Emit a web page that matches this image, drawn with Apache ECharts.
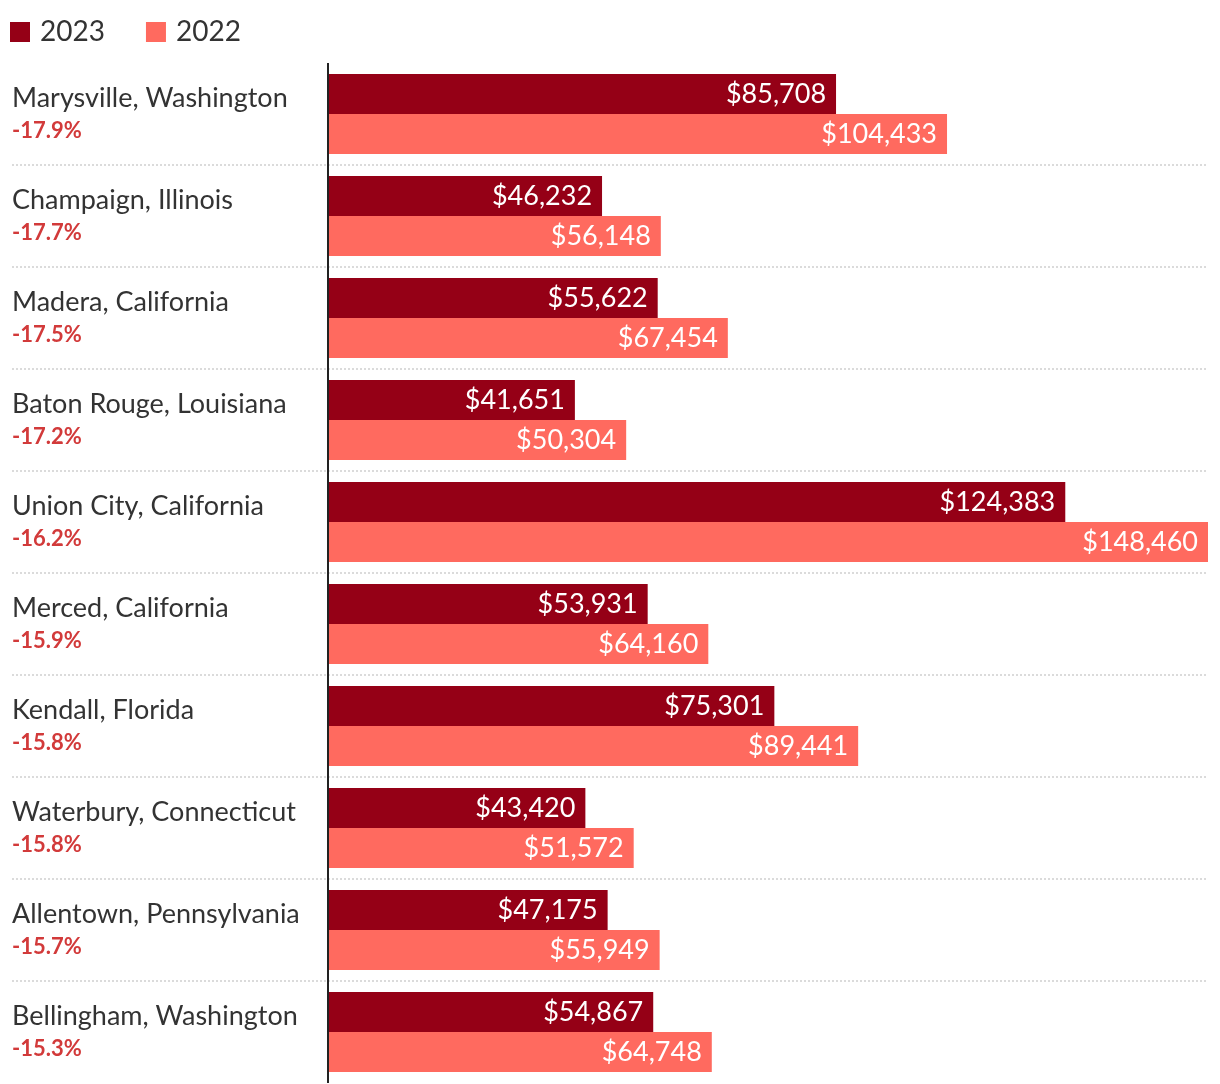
<!DOCTYPE html>
<html>
<head>
<meta charset="utf-8">
<script src="https://cdn.jsdelivr.net/npm/echarts@6/dist/echarts.min.js"></script>
<style>
html,body{margin:0;padding:0;background:#fff;}
#chart{width:1220px;height:1084px;}
</style>
</head>
<body>
<div id="chart"></div>
<script>
const cities = ["Marysville, Washington","Champaign, Illinois","Madera, California","Baton Rouge, Louisiana","Union City, California","Merced, California","Kendall, Florida","Waterbury, Connecticut","Allentown, Pennsylvania","Bellingham, Washington"];
const changes = ["-17.9%","-17.7%","-17.5%","-17.2%","-16.2%","-15.9%","-15.8%","-15.8%","-15.7%","-15.3%"];
const values2023 = [85708,46232,55622,41651,124383,53931,75301,43420,47175,54867];
const values2022 = [104433,56148,67454,50304,148460,64160,89441,51572,55949,64748];
const seriesNames = ["2023","2022"];

const FONT = 'Lato';
const maxVal = Math.max(...values2022, ...values2023);
// left label area: 316px before the zero line, 880px for the bar area
const minVal = -maxVal * 316 / 880;

const fmt = v => '$' + v.toLocaleString('en-US');
const labels = cities.map((c,i)=> c + '||' + changes[i]);

const chart = echarts.init(document.getElementById('chart'));
chart.setOption({
  animation:false,
  textStyle:{fontFamily:FONT},
  legend:{
    left:5, top:13, itemWidth:20, itemHeight:20, itemGap:41, icon:'rect',
    textStyle:{fontFamily:FONT, fontSize:28, color:'#333', padding:[0,0,0,5]},
    data:seriesNames
  },
  grid:{left:12, right:12, top:63, bottom:1, containLabel:false},
  xAxis:{
    type:'value', min:minVal, max:maxVal,
    axisLine:{show:false}, axisTick:{show:false}, axisLabel:{show:false}, splitLine:{show:false}
  },
  yAxis:{
    type:'category', inverse:true, data:labels,
    axisLine:{show:false}, axisTick:{show:false},
    splitLine:{show:true, showMinLine:false, showMaxLine:false, lineStyle:{color:'#cfcfcf', type:[2,2], width:1.5}},
    axisLabel:{
      inside:true, margin:0, align:'left',
      formatter: v => { const p = v.split('||'); return '{n|'+p[0]+'}\n{p|'+p[1]+'}'; },
      rich:{
        n:{fontFamily:FONT, fontSize:27, color:'#333', lineHeight:34, padding:[0,0,2,0]},
        p:{fontFamily:FONT, fontSize:22, fontWeight:'bold', color:'#d23a3a', lineHeight:30}
      }
    }
  },
  series:[
    {
      name:seriesNames[0], type:'bar', data:values2023, barWidth:40, barGap:'0%',
      itemStyle:{color:'#950016'},
      label:{show:true, position:'insideRight', distance:10, color:'#fff', fontSize:27, fontFamily:FONT, formatter:p=>fmt(p.value)},
      markLine:{
        silent:true, symbol:'none', label:{show:false},
        lineStyle:{color:'#222', width:2, type:'solid'},
        data:[{xAxis:0}]
      }
    },
    {
      name:seriesNames[1], type:'bar', data:values2022, barWidth:40, barGap:'0%',
      itemStyle:{color:'#ff6a5f'},
      label:{show:true, position:'insideRight', distance:10, color:'#fff', fontSize:27, fontFamily:FONT, formatter:p=>fmt(p.value)}
    }
  ]
});
</script>
</body>
</html>
